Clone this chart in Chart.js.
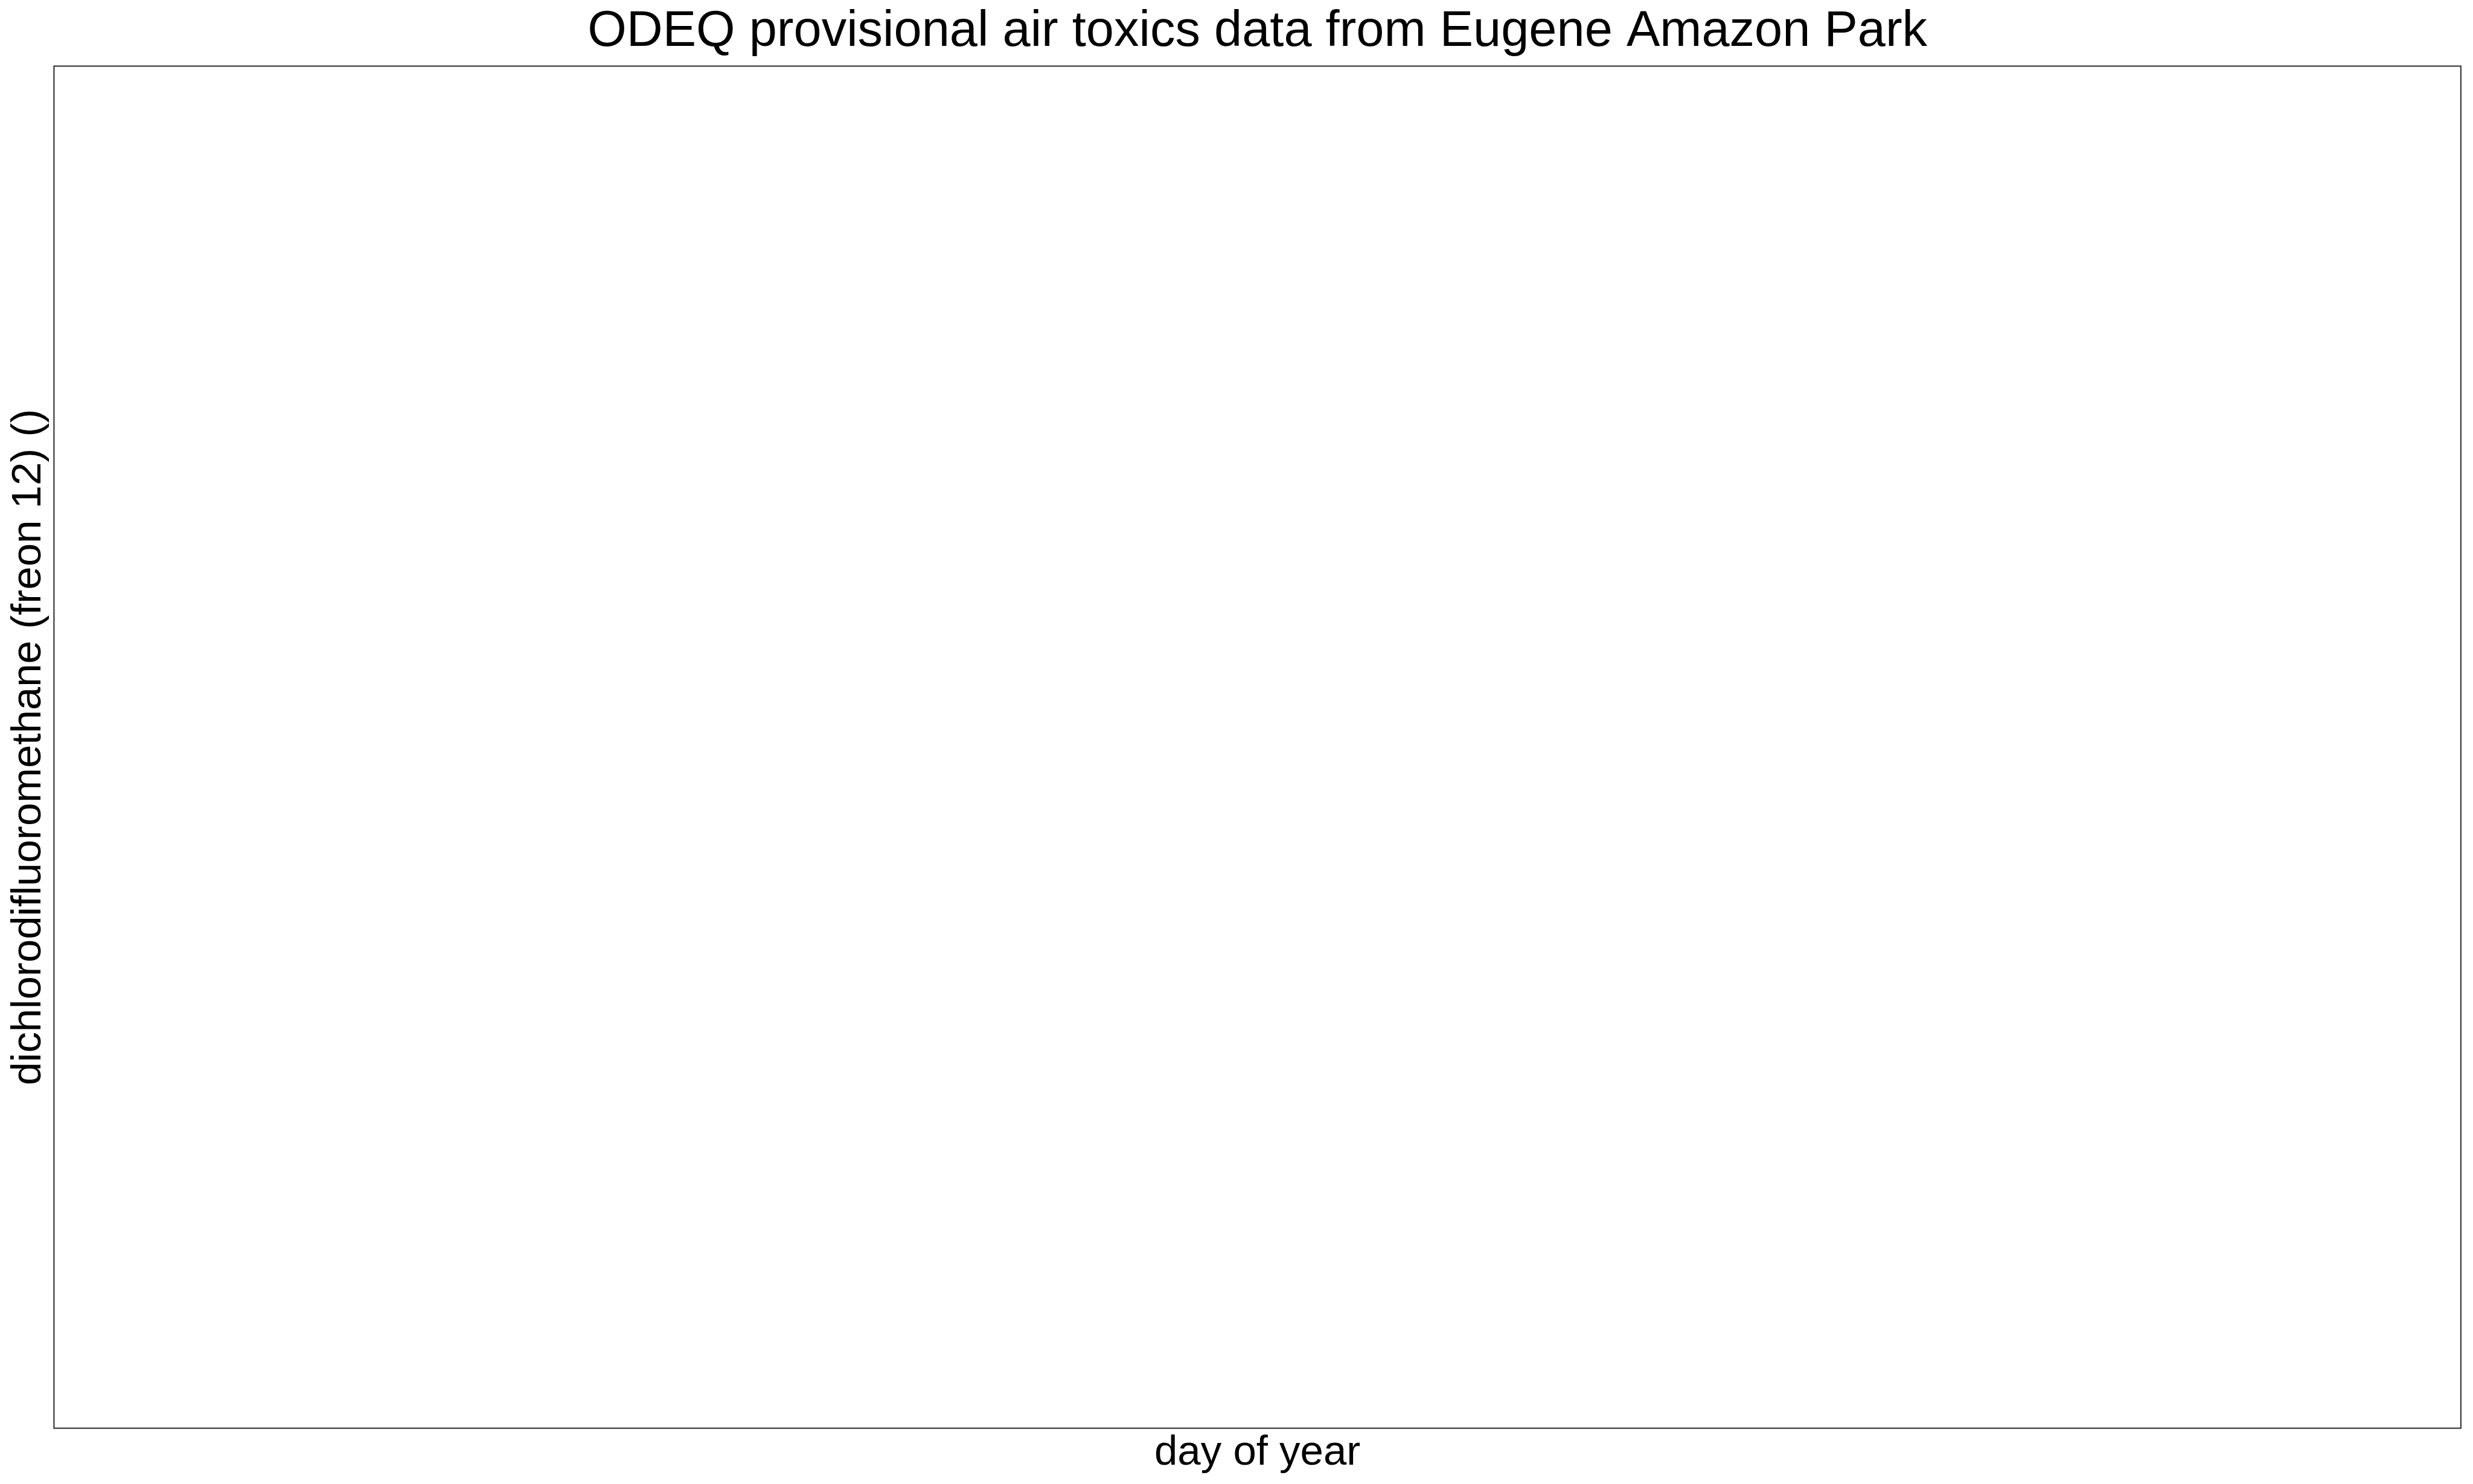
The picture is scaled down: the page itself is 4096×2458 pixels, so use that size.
<!DOCTYPE html>
<html>
<head>
<meta charset="utf-8">
<script src="https://cdn.jsdelivr.net/npm/chart.js@4/dist/chart.umd.min.js"></script>
<style>
  html, body { margin: 0; padding: 0; background: #ffffff; }
  #wrap { width: 4096px; height: 2458px; position: relative; }
  canvas { display: block; }
</style>
</head>
<body>
<div id="wrap"><canvas id="c" width="4096" height="2458"></canvas></div>
<script>
// Data (the reference plot contains no data points)
const dayOfYear = [];
const freon12 = [];

const titleText = "ODEQ provisional air toxics data from Eugene Amazon Park";
const xLabel = "day of year";
const yLabel = "dichlorodifluoromethane (freon 12) ()";

const FONT = '"Liberation Sans", Arial, Helvetica, sans-serif';

const points = dayOfYear.map((d, i) => ({ x: d, y: freon12[i] }));

const framePlugin = {
  id: 'frameAndLabels',
  afterDraw(chart) {
    const ctx = chart.ctx;
    const a = chart.chartArea;
    ctx.save();
    // plot frame
    ctx.strokeStyle = '#333333';
    ctx.lineWidth = 2.1;
    ctx.strokeRect(a.left, a.top, a.right - a.left, a.bottom - a.top);
    // title
    ctx.fillStyle = '#000000';
    ctx.textAlign = 'center';
    ctx.textBaseline = 'alphabetic';
    const cx = (a.left + a.right) / 2;
    ctx.font = '83px ' + FONT;
    ctx.fillText(titleText, cx, 76);
    // x label
    ctx.font = '69px ' + FONT;
    ctx.fillText(xLabel, cx, 2425.5);
    // y label
    const cy = (a.top + a.bottom) / 2;
    ctx.translate(67, cy);
    ctx.rotate(-Math.PI / 2);
    ctx.fillText(yLabel, 0, 0);
    ctx.restore();
  }
};

new Chart(document.getElementById('c'), {
  type: 'scatter',
  data: {
    datasets: [{
      label: 'freon 12',
      data: points,
      pointRadius: 6,
      backgroundColor: '#000000',
      borderColor: '#000000'
    }]
  },
  options: {
    responsive: false,
    animation: false,
    devicePixelRatio: 1,
    layout: {
      padding: { left: 89.4, top: 109.5, right: 20.1, bottom: 92.4 }
    },
    plugins: {
      legend: { display: false },
      title: { display: false },
      tooltip: { enabled: false }
    },
    scales: {
      x: { type: 'linear', display: false },
      y: { type: 'linear', display: false }
    }
  },
  plugins: [framePlugin]
});
</script>
</body>
</html>
